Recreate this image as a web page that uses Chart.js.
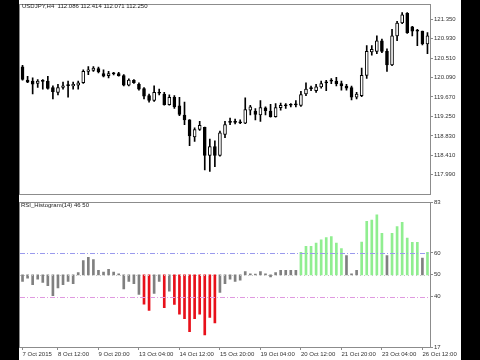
<!DOCTYPE html>
<html>
<head>
<meta charset="utf-8">
<script src="https://cdn.jsdelivr.net/npm/chart.js@4.4.0/dist/chart.umd.min.js"></script>
<style>
  html, body { margin: 0; padding: 0; background: #000; width: 480px; height: 360px; overflow: hidden; }
  #sheet { position: absolute; left: 19px; top: 0; width: 442px; height: 360px; background: #fff; }
  canvas { position: absolute; left: 0; }
  #priceChart { top: 0; }
  #rsiChart { top: 198px; }
  .cap { position: absolute; font: 6px "Liberation Sans", Arial, sans-serif; color: #222; white-space: pre; }
</style>
</head>
<body>
<div id="sheet">
  <canvas id="priceChart" width="442" height="198"></canvas>
  <canvas id="rsiChart" width="442" height="162"></canvas>
  <div class="cap" style="left:3px;top:3px">USDJPY,H4  112.086 112.414 112.071 112.250</div>
  <div class="cap" style="left:2px;top:202px">RSI_Histogram(14) 46 50</div>
</div>
<script>
// H4 candles, left to right
const open = [
  120.320, 120.033, 120.012, 119.963, 120.005, 120.012, 119.873, 119.768, 119.873, 119.915,
  119.908, 119.922, 119.977, 120.221, 120.242, 120.284, 120.173, 120.131, 120.170, 120.173,
  120.131, 119.922, 120.026, 119.943, 119.852, 119.699, 119.594, 119.750, 119.734, 119.504,
  119.664, 119.476, 119.281, 119.176, 118.807, 118.967, 119.016, 118.410, 118.598, 118.410,
  118.863, 119.120, 119.120, 119.110, 119.106, 119.385, 119.364, 119.280, 119.434, 119.364,
  119.246, 119.441, 119.480, 119.490, 119.500, 119.489, 119.733, 119.850, 119.803, 119.886,
  119.975, 120.010, 120.012, 119.956, 119.907, 119.872, 119.663, 119.698, 120.137, 120.639,
  120.653, 120.883, 120.653, 120.360, 120.987, 121.266, 121.475, 121.182, 121.090, 121.092,
  120.813
];
const high = [
  120.350, 120.117, 120.082, 120.047, 120.047, 120.117, 119.908, 119.943, 119.991, 120.012,
  119.991, 120.012, 120.256, 120.326, 120.326, 120.312, 120.256, 120.221, 120.200, 120.200,
  120.152, 120.061, 120.047, 119.977, 119.873, 119.734, 119.908, 119.838, 119.768, 119.713,
  119.699, 119.664, 119.559, 119.180, 119.002, 119.141, 119.020, 118.758, 118.723, 118.932,
  119.141, 119.211, 119.190, 119.176, 119.650, 119.489, 119.420, 119.594, 119.454, 119.510,
  119.524, 119.538, 119.524, 119.524, 119.594, 119.789, 119.977, 119.907, 119.942, 120.012,
  120.026, 120.067, 120.095, 120.012, 119.942, 119.907, 119.768, 120.291, 120.778, 120.778,
  120.987, 120.918, 120.709, 121.127, 121.301, 121.489, 121.489, 121.196, 121.127, 121.092,
  121.057
];
const low = [
  120.030, 119.977, 119.734, 119.873, 119.838, 119.838, 119.629, 119.713, 119.838, 119.664,
  119.838, 119.838, 119.963, 120.152, 120.221, 120.187, 120.103, 120.082, 120.145, 120.117,
  119.908, 119.908, 119.963, 119.817, 119.629, 119.559, 119.573, 119.713, 119.490, 119.490,
  119.420, 119.267, 119.072, 118.619, 118.709, 118.946, 118.097, 118.062, 118.166, 118.389,
  118.793, 119.071, 119.090, 119.092, 119.092, 119.280, 119.176, 119.141, 119.280, 119.232,
  119.232, 119.385, 119.420, 119.454, 119.454, 119.468, 119.698, 119.803, 119.768, 119.859,
  119.803, 119.956, 119.907, 119.817, 119.817, 119.608, 119.629, 119.677, 120.067, 120.569,
  120.604, 120.625, 120.221, 120.346, 120.883, 121.252, 121.043, 120.987, 120.778, 120.792,
  120.604
];
const close = [
  120.050, 119.991, 119.943, 120.012, 120.012, 119.852, 119.782, 119.873, 119.908, 119.922,
  119.943, 119.977, 120.221, 120.256, 120.291, 120.214, 120.117, 120.173, 120.175, 120.131,
  119.922, 120.033, 119.977, 119.838, 119.685, 119.594, 119.768, 119.755, 119.504, 119.664,
  119.455, 119.295, 119.176, 118.828, 118.967, 119.058, 118.410, 118.598, 118.410, 118.897,
  119.072, 119.125, 119.130, 119.115, 119.399, 119.454, 119.294, 119.441, 119.371, 119.246,
  119.441, 119.489, 119.485, 119.495, 119.505, 119.719, 119.838, 119.855, 119.886, 119.956,
  119.980, 120.015, 119.956, 119.907, 119.859, 119.663, 119.733, 120.137, 120.653, 120.695,
  120.883, 120.653, 120.360, 120.987, 121.266, 121.440, 121.057, 121.092, 121.095, 120.813,
  120.987
];

// RSI_Histogram(14), one value per candle
const rsi = [
  47, 48.5, 45.5, 48, 46.5, 45, 40.5, 44, 45.5, 47,
  46, 51, 56.5, 58, 57, 52, 51.3, 52.5, 51.3, 50.5,
  43.5, 47, 46, 41, 36.6, 33.7, 41.5, 47, 35, 42.5,
  36.5, 32, 30, 24, 30, 32, 22.5, 30.5, 28, 42,
  46, 48, 47, 47.5, 51.5, 50.5, 50.3, 51.5, 50.5, 49,
  51, 52, 52, 52, 52, 60.3, 63, 63, 64.5, 66,
  67, 67.5, 64.5, 62, 58.8, 50.5, 52, 65, 74.4, 75,
  77.4, 69, 58.8, 69, 72, 74, 66.8, 64.8, 64.8, 57.6,
  60.3
];

const timeLabels = ['7 Oct 2015', '8 Oct 12:00', '9 Oct 20:00', '13 Oct 04:00', '14 Oct 12:00',
  '15 Oct 20:00', '19 Oct 04:00', '20 Oct 12:00', '21 Oct 20:00', '23 Oct 04:00', '26 Oct 12:00'];
const timeStep = 8; // one time label every 8 bars

const priceTicks = [117.990, 118.410, 118.830, 119.250, 119.670, 120.090, 120.510, 120.930, 121.350];
const priceMin = 117.588;
const priceMax = 121.663;

const rsiTicks = [17, 40, 50, 60, 83];
const rsiLevels = [60, 50, 40];
const rsiBase = 50;

// bar labels: blank except where a time label sits
const barLabels = open.map(() => '');
timeLabels.forEach((t, k) => { barLabels[Math.max(0, k * timeStep - 1)] = t; });

Chart.defaults.font.family = '"Liberation Sans", Arial, sans-serif';
Chart.defaults.font.size = 6;
Chart.defaults.color = '#333';

const frameColor = '#8c8c8c';

const frame = {
  id: 'frame',
  afterDraw(chart) {
    const { ctx, chartArea: a } = chart;
    ctx.save();
    ctx.strokeStyle = frameColor;
    ctx.lineWidth = 1;
    ctx.strokeRect(Math.round(a.left) - 0.5, Math.round(a.top) - 0.5,
      Math.round(a.right - a.left) + 1, Math.round(a.bottom - a.top) + 1);
    ctx.restore();
  }
};

const levelLines = {
  id: 'levelLines',
  afterDatasetsDraw(chart) {
    const { ctx, chartArea: a, scales: { y } } = chart;
    const styles = {
      60: { color: '#9a9aee', dash: [5, 2, 1, 2] },
      50: { color: '#c4c4c4', dash: [1, 3] },
      40: { color: '#e09ae0', dash: [5, 2, 1, 2] }
    };
    ctx.save();
    ctx.lineWidth = 1;
    rsiLevels.forEach(v => {
      const py = Math.round(y.getPixelForValue(v)) + 0.5;
      ctx.strokeStyle = styles[v].color;
      ctx.setLineDash(styles[v].dash);
      ctx.beginPath();
      ctx.moveTo(a.left, py);
      ctx.lineTo(a.right, py);
      ctx.stroke();
    });
    ctx.restore();
  }
};

const bear = open.map((o, i) => close[i] < o || Math.abs(close[i] - o) < 0.01);

const rightAxis = (min, max, ticks, fmt) => ({
  position: 'right',
  min, max,
  grid: { drawOnChartArea: false, drawTicks: true, tickLength: 3, color: frameColor },
  border: { display: false },
  ticks: { padding: 1, color: '#333', callback: fmt },
  afterBuildTicks: (s) => { s.ticks = ticks.map(v => ({ value: v })); },
  afterFit: (s) => { s.width = 31; }
});

new Chart(document.getElementById('priceChart'), {
  type: 'bar',
  data: {
    labels: barLabels,
    datasets: [
      {
        data: open.map((o, i) => [Math.min(o, close[i]), Math.max(o, close[i])]),
        backgroundColor: bear.map(b => b ? '#000' : '#fff'),
        borderColor: '#000',
        borderWidth: 1,
        borderSkipped: false,
        barThickness: 3,
        minBarLength: 1,
        grouped: false,
        order: 0
      },
      {
        data: low.map((l, i) => [l, high[i]]),
        backgroundColor: '#000',
        barThickness: 1,
        grouped: false,
        order: 1
      }
    ]
  },
  options: {
    responsive: false,
    animation: false,
    events: [],
    layout: { padding: { left: 1, top: 1, right: 0, bottom: 2 } },
    plugins: { legend: { display: false }, tooltip: { enabled: false } },
    scales: {
      x: { display: false, offset: true },
      y: rightAxis(priceMin, priceMax, priceTicks, v => v.toFixed(3))
    }
  },
  plugins: [frame]
});

new Chart(document.getElementById('rsiChart'), {
  type: 'bar',
  data: {
    labels: barLabels,
    datasets: [{
      data: rsi.map(v => [rsiBase, v]),
      backgroundColor: rsi.map(v => v >= 60 ? '#90ee90' : v <= 40 ? '#e8101a' : '#808080'),
      barThickness: 2
    }]
  },
  options: {
    responsive: false,
    animation: false,
    events: [],
    layout: { padding: { left: 1, top: 1, right: 0, bottom: 0 } },
    plugins: { legend: { display: false }, tooltip: { enabled: false } },
    scales: {
      x: {
        offset: true,
        grid: { drawOnChartArea: false, drawTicks: true, tickLength: 3, color: frameColor, offset: false },
        border: { display: false },
        ticks: { autoSkip: false, maxRotation: 0, minRotation: 0, align: 'start', padding: 1, color: '#333',
          callback: (v) => barLabels[v] },
        afterBuildTicks: (s) => { s.ticks = s.ticks.filter(t => barLabels[t.value] !== ''); },
        afterFit: (s) => { s.height = 13; }
      },
      y: rightAxis(17, 83, rsiTicks, v => String(v))
    }
  },
  plugins: [frame, levelLines]
});
</script>
</body>
</html>
